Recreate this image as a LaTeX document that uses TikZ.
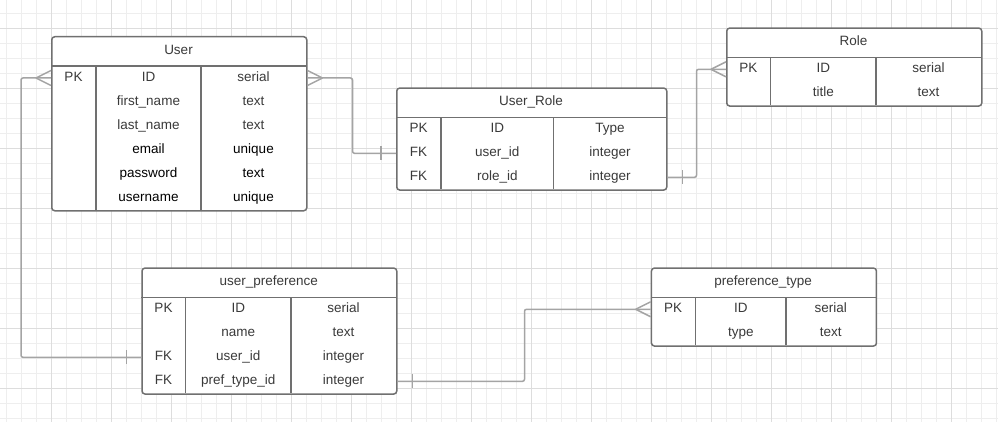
\documentclass[tikz,border=0pt]{standalone}
\usepackage{fontspec}
\setmainfont{Liberation Sans}
\definecolor{tblgray}{HTML}{707070}
\definecolor{lnkgray}{HTML}{A4A4A4}
\definecolor{txtgray}{HTML}{3A3A3A}
\definecolor{gridminor}{HTML}{EEEEEE}
\definecolor{gridmajor}{HTML}{DDDDDD}
\tikzset{
	tbl/.style={draw=tblgray, fill=white, line width=1.5pt, rounded corners=3pt, inner sep=0pt, anchor=north west},
	tbline/.style={draw=tblgray, line width=1.5pt},
	cell/.style={text=txtgray, font=\fontsize{13.5}{16}\selectfont, inner sep=0pt, text height=9.7pt, text depth=2.7pt},
	link/.style={draw=lnkgray, line width=1.5pt, rounded corners=2pt},
	foot/.style={draw=lnkgray, line width=1.5pt}
}

\begin{document}
\begin{tikzpicture}[x=1pt, y=-1pt]
	\useasboundingbox (0,0) rectangle (998,422);
	% background grid
	\foreach \x in {6.7,21.7,...,998} \draw[gridminor, line width=1pt] (\x,0) -- (\x,422);
	\foreach \y in {13.3,28.3,...,422} \draw[gridminor, line width=1pt] (0,\y) -- (998,\y);
	\foreach \x in {51.7,111.7,...,998} \draw[gridmajor, line width=1pt] (\x,0) -- (\x,422);
	\foreach \y in {28.3,88.3,...,422} \draw[gridmajor, line width=1pt] (0,\y) -- (998,\y);

	% User
	\node[tbl, minimum width=255pt, minimum height=174pt] (user) at (51,36) {};
	\draw[tbline] (51,66) -- (306,66);
	\draw[tbline] (96,66) -- (96,210);
	\draw[tbline] (201,66) -- (201,210);
	\node[cell] (user-title) at (178.5,51) {User};
	\foreach \k/\f/\t/\c [count=\i] in {PK/ID/serial/txtgray, /first\_name/text/txtgray, /last\_name/text/txtgray, /email/unique/black, /password/text/black, /username/unique/black} {
		\node[cell] (user-k\i) at (73.5,54+24*\i) {\k};
		\node[cell, text=\c] (user-f\i) at (148.5,54+24*\i) {\f};
		\node[cell, text=\c] (user-t\i) at (253.5,54+24*\i) {\t};
	}

	% User_Role
	\node[tbl, minimum width=270pt, minimum height=102pt] (urole) at (396,87.3) {};
	\draw[tbline] (396,117.3) -- (666,117.3);
	\draw[tbline] (441,117.3) -- (441,189.3);
	\draw[tbline] (553.7,117.3) -- (553.7,189.3);
	\node[cell] (urole-title) at (531,102.3) {User\_Role};
	\foreach \k/\f/\t [count=\i] in {PK/ID/Type, FK/user\_id/integer, FK/role\_id/integer} {
		\node[cell] (urole-k\i) at (418.5,105.3+24*\i) {\k};
		\node[cell] (urole-f\i) at (497.3,105.3+24*\i) {\f};
		\node[cell] (urole-t\i) at (610,105.3+24*\i) {\t};
	}

	% Role
	\node[tbl, minimum width=255pt, minimum height=78pt] (role) at (726,27.3) {};
	\draw[tbline] (726,57.3) -- (981,57.3);
	\draw[tbline] (770.7,57.3) -- (770.7,105.3);
	\draw[tbline] (876,57.3) -- (876,105.3);
	\node[cell] (role-title) at (853.5,42.3) {Role};
	\foreach \k/\f/\t [count=\i] in {PK/ID/serial, /title/text} {
		\node[cell] (role-k\i) at (748.3,45.3+24*\i) {\k};
		\node[cell] (role-f\i) at (823.3,45.3+24*\i) {\f};
		\node[cell] (role-t\i) at (928.5,45.3+24*\i) {\t};
	}

	% user_preference
	\node[tbl, minimum width=254.7pt, minimum height=126pt] (upref) at (141.3,267.3) {};
	\draw[tbline] (141.3,297.3) -- (396,297.3);
	\draw[tbline] (185.7,297.3) -- (185.7,393.3);
	\draw[tbline] (291,297.3) -- (291,393.3);
	\node[cell] (upref-title) at (268.7,282.3) {user\_preference};
	\foreach \k/\f/\t [count=\i] in {PK/ID/serial, /name/text, FK/user\_id/integer, FK/pref\_type\_id/integer} {
		\node[cell] (upref-k\i) at (163.5,285.3+24*\i) {\k};
		\node[cell] (upref-f\i) at (238.3,285.3+24*\i) {\f};
		\node[cell] (upref-t\i) at (343.5,285.3+24*\i) {\t};
	}

	% preference_type
	\node[tbl, minimum width=225pt, minimum height=78pt] (ptype) at (650.7,267.3) {};
	\draw[tbline] (650.7,297.3) -- (875.7,297.3);
	\draw[tbline] (695.7,297.3) -- (695.7,345.3);
	\draw[tbline] (786,297.3) -- (786,345.3);
	\node[cell] (ptype-title) at (763.2,282.3) {preference\_type};
	\foreach \k/\f/\t [count=\i] in {PK/ID/serial, /type/text} {
		\node[cell] (ptype-k\i) at (673.2,285.3+24*\i) {\k};
		\node[cell] (ptype-f\i) at (740.8,285.3+24*\i) {\f};
		\node[cell] (ptype-t\i) at (830.8,285.3+24*\i) {\t};
	}

	% relations
	\draw[link] (user.west |- user-f1) -- ++(-30,0) |- (upref.west |- upref-f3);
	\draw[foot] (user.west |- user-f1) ++(-15,0) -- ++(15,-7.5) ++(-15,7.5) -- ++(15,7.5);
	\draw[foot] (upref.west |- upref-f3) ++(-15,-7) -- ++(0,14);

	\draw[link] (user.east |- user-f1) -- ++(45,0) |- (urole.west |- urole-f2);
	\draw[foot] (user.east |- user-f1) ++(15,0) -- ++(-15,-7.5) ++(15,7.5) -- ++(-15,7.5);
	\draw[foot] (urole.west |- urole-f2) ++(-15,-7) -- ++(0,14);

	\draw[link] (urole.east |- urole-f3) -- ++(29,0) |- (role.west |- role-f1);
	\draw[foot] (urole.east |- urole-f3) ++(15,-7) -- ++(0,14);
	\draw[foot] (role.west |- role-f1) ++(-15,0) -- ++(15,-7.5) ++(-15,7.5) -- ++(15,7.5);

	\draw[link] (upref.east |- upref-f4) -- ++(127,0) |- (ptype.west |- ptype-f1);
	\draw[foot] (upref.east |- upref-f4) ++(15,-7) -- ++(0,14);
	\draw[foot] (ptype.west |- ptype-f1) ++(-15,0) -- ++(15,-7.5) ++(-15,7.5) -- ++(15,7.5);
\end{tikzpicture}
\end{document}
